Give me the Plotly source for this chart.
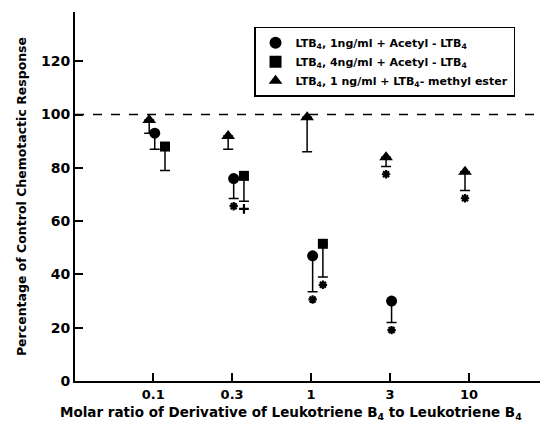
import plotly.graph_objects as go

ratio_labels = ["0.1", "0.3", "1", "3", "10"]

# LTB4 1 ng/ml + Acetyl-LTB4 (circles)
circ_x = ["0.1", "0.3", "1", "3"]
circ_y = [93, 76, 47, 30]
circ_low = [87, 68.5, 33.5, 22]
circ_sig = ["", "*", "*", "*"]

# LTB4 4 ng/ml + Acetyl-LTB4 (squares)
sq_x = ["0.1", "0.3", "1"]
sq_y = [88, 77, 51.5]
sq_low = [79, 67.5, 39]
sq_sig = ["", "+", "*"]

# LTB4 1 ng/ml + LTB4-methyl ester (triangles)
tri_x = ["0.1", "0.3", "1", "3", "10"]
tri_y = [98, 92, 99, 84, 78.5]
tri_low = [93, 87, 86, 80.5, 71.5]
tri_sig = ["", "", "", "*", "*"]

control_level = 100

FONT = "DejaVu Sans"
idx = {lab: i for i, lab in enumerate(ratio_labels)}
SIG_GAP = 2.9
sig_symbol = {"*": "asterisk-open", "+": "cross-thin-open"}

fig = go.Figure()

series = [
    ("LTB<sub>4</sub>, 1ng/ml + Acetyl - LTB<sub>4</sub>", circ_x, circ_y, circ_low, circ_sig, "circle", 11, 0.02),
    ("LTB<sub>4</sub>, 4ng/ml + Acetyl - LTB<sub>4</sub>", sq_x, sq_y, sq_low, sq_sig, "square", 10, 0.15),
    ("LTB<sub>4</sub>, 1 ng/ml + LTB<sub>4</sub>- methyl ester", tri_x, tri_y, tri_low, tri_sig, "triangle-up", 12, -0.05),
]

for name, xs, ys, lows, sig, sym, size, off in series:
    xp = [idx[v] + off for v in xs]
    minus = [y - l for y, l in zip(ys, lows)]
    fig.add_trace(go.Scatter(
        x=xp, y=ys, mode="markers", name=name,
        marker=dict(symbol=sym, size=size, color="black"),
        error_y=dict(type="data", symmetric=False, array=[0] * len(ys),
                     arrayminus=minus, color="black", thickness=1.5, width=5),
    ))
    sx = [x for x, s in zip(xp, sig) if s]
    sy = [l - SIG_GAP for l, s in zip(lows, sig) if s]
    ss = [sig_symbol[s] for s in sig if s]
    fig.add_trace(go.Scatter(
        x=sx, y=sy, mode="markers",
        marker=dict(symbol=ss, size=7, color="black", line=dict(color="black", width=2.2)),
        showlegend=False, hoverinfo="skip",
    ))

fig.add_shape(type="line", xref="paper", x0=0, x1=1, yref="y",
              y0=control_level, y1=control_level,
              line=dict(color="black", width=1.5, dash="dash"))

fig.add_annotation(
    text="Molar ratio of Derivative of Leukotriene B<sub>4</sub> to Leukotriene B<sub>4</sub>",
    xref="paper", yref="paper", x=0.465, y=-0.088, xanchor="center", yanchor="middle",
    showarrow=False, font=dict(size=13.5, family=FONT, weight="bold", color="black"),
)

fig.update_layout(
    width=542, height=424,
    margin=dict(l=75, r=2, t=12, b=43),
    paper_bgcolor="white", plot_bgcolor="white",
    font=dict(family=FONT, color="black", size=13, weight="bold"),
    showlegend=True,
    legend=dict(x=0.385, y=0.96, xanchor="left", yanchor="top",
                bordercolor="black", borderwidth=1.5, bgcolor="white",
                font=dict(family=FONT, size=11, weight="bold"),
                tracegroupgap=0, itemsizing="constant"),
    xaxis=dict(range=[-0.99, 4.9], tickmode="array",
               tickvals=list(range(len(ratio_labels))), ticktext=ratio_labels,
               showgrid=False, zeroline=False, showline=True, linecolor="black",
               linewidth=2, ticks="inside", ticklen=8, tickwidth=1.5, tickcolor="black",
               tickfont=dict(size=13, family=FONT, weight="bold")),
    yaxis=dict(range=[0, 138.5], tickvals=[0, 20, 40, 60, 80, 100, 120],
               showgrid=False, zeroline=False, showline=True, linecolor="black",
               linewidth=2, ticks="inside", ticklen=8, tickwidth=1.5, tickcolor="black",
               tickfont=dict(size=14, family=FONT, weight="bold"),
               title=dict(text="Percentage of Control Chemotactic Response",
                          font=dict(size=12.5, family=FONT, weight="bold"), standoff=12)),
)

fig.write_html("out.html", config={"displayModeBar": False},
               post_script="document.body.style.margin='0';document.body.style.overflow='hidden';")
